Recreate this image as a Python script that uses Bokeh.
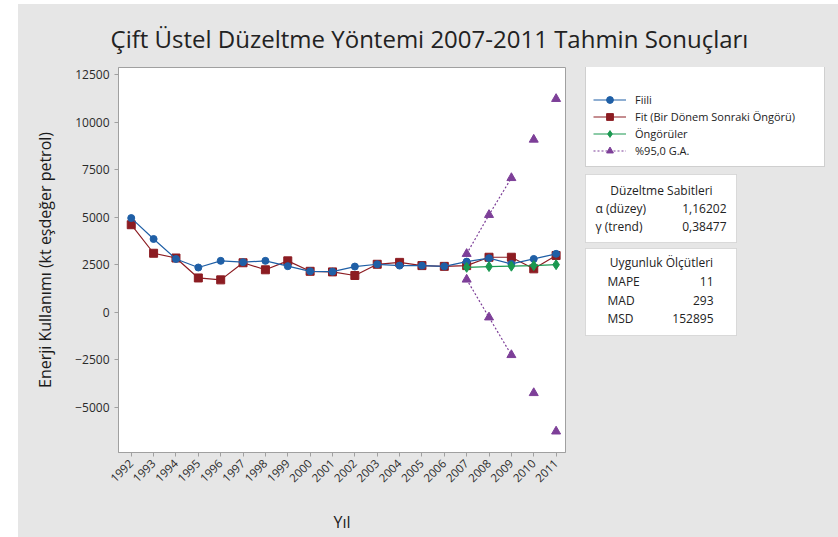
import math
from bokeh.plotting import figure
from bokeh.layouts import column, row
from bokeh.models import (Legend, LegendItem, Label, BoxAnnotation, FixedTicker,
                          Range1d, ColumnDataSource)
from bokeh.embed import file_html
from bokeh.resources import INLINE

# ---- data ----
years = list(range(1992, 2012))
actual = [4950, 3850, 2800, 2350, 2700, 2630, 2700, 2420, 2150, 2130,
          2400, 2520, 2450, 2450, 2410, 2660, 2840, 2540, 2800, 3070]
fit = [4600, 3100, 2850, 1800, 1700, 2600, 2230, 2700, 2150, 2120,
       1930, 2520, 2620, 2450, 2410, 2450, 2890, 2890, 2280, 2980]
fc_years = [2007, 2008, 2009, 2010, 2011]
forecast = [2360, 2400, 2420, 2450, 2500]
upper = [3070, 5120, 7060, 9080, 11220]
lower = [1720, -270, -2250, -4250, -6270]
y_ticks = [-5000, -2500, 0, 2500, 5000, 7500, 10000, 12500]
title_text = "Çift Üstel Düzeltme Yöntemi 2007-2011 Tahmin Sonuçları"
series_names = ["Fiili", "Fit (Bir Dönem Sonraki Öngörü)", "Öngörüler", "%95,0 G.A."]
smoothing_title = "Düzeltme Sabitleri"
smoothing = [("α (düzey)", "1,16202"), ("γ (trend)", "0,38477")]
accuracy_title = "Uygunluk Ölçütleri"
accuracy = [("MAPE", "11"), ("MAD", "293"), ("MSD", "152895")]

FONT = "Open Sans"
BG = "#e6e6e6"
GRAY = "#a0a0a0"
BLUE = "#1f5fa6"
RED = "#8c1c22"
GREEN = "#1a9850"
PURPLE = "#7d3f98"
TXT = "#222222"

TOTAL_W, TOTAL_H = 820, 533
TITLE_H = 50
MAIN_W = 557
SIDE_W = TOTAL_W - MAIN_W
BODY_H = TOTAL_H - TITLE_H
B_TOP, B_BOT = 13, 85          # frame borders shared by the two lower panels
F_BOT = BODY_H - B_BOT         # frame bottom in canvas pixels


def styled_blank(f):
    f.grid.visible = False
    f.outline_line_color = None
    f.background_fill_color = BG
    f.border_fill_color = BG
    return f


# ---- title strip ----
t = styled_blank(figure(width=TOTAL_W, height=TITLE_H, output_backend="svg",
                        toolbar_location=None, x_range=Range1d(0, TOTAL_W),
                        y_range=Range1d(TITLE_H, 0), x_axis_location=None,
                        y_axis_location=None, min_border=0))
t.add_layout(Label(x=411, y=34, text=title_text, text_font=FONT, text_font_size="24px",
                   text_color=TXT, text_align="center", text_baseline="middle"))

# ---- main chart ----
p = figure(width=MAIN_W, height=BODY_H, output_backend="svg", toolbar_location=None,
           x_range=Range1d(1991.43, 2011.42), y_range=Range1d(-7380, 12870),
           min_border_left=100, min_border_right=10, min_border_top=B_TOP,
           min_border_bottom=B_BOT)
p.background_fill_color = "white"
p.border_fill_color = BG
p.outline_line_color = GRAY
p.grid.visible = False

for ax in (p.xaxis[0], p.yaxis[0]):
    ax.axis_line_color = GRAY
    ax.major_tick_line_color = GRAY
    ax.major_tick_out = 4
    ax.major_tick_in = 0
    ax.minor_tick_line_color = None
    ax.major_label_text_font = FONT
    ax.major_label_text_color = "#2a2a2a"
    ax.axis_label_text_font = FONT
    ax.axis_label_text_font_style = "normal"
    ax.axis_label_text_color = "#1a1a1a"
    ax.axis_label_text_font_size = "16px"

p.xaxis.ticker = FixedTicker(ticks=years)
p.xaxis.major_label_orientation = math.pi / 4
p.xaxis.major_label_text_font_size = "11.5px"
p.xaxis.axis_label = "Yıl"
p.xaxis.axis_label_standoff = 22

p.yaxis.ticker = FixedTicker(ticks=y_ticks)
p.yaxis.major_label_text_font_size = "12px"
p.yaxis.axis_label = "Enerji Kullanımı (kt eşdeğer petrol)"
p.yaxis.axis_label_standoff = 16

src_a = ColumnDataSource(dict(x=years, y=actual))
src_f = ColumnDataSource(dict(x=years, y=fit))
src_g = ColumnDataSource(dict(x=fc_years, y=forecast))
src_u = ColumnDataSource(dict(x=fc_years, y=upper))
src_l = ColumnDataSource(dict(x=fc_years, y=lower))
src_ul = ColumnDataSource(dict(x=fc_years[:3], y=upper[:3]))
src_ll = ColumnDataSource(dict(x=fc_years[:3], y=lower[:3]))

STY = dict(
    a_line=dict(color=BLUE, line_width=1.2),
    a_pt=dict(marker="circle", size=7, color=BLUE),
    f_line=dict(color=RED, line_width=1.2),
    f_pt=dict(marker="square", size=8, color=RED),
    g_line=dict(color=GREEN, line_width=1.2),
    g_pt=dict(marker="diamond", size=10, color=GREEN),
    c_line=dict(color=PURPLE, line_width=1.2, line_dash="2 2"),
    c_pt=dict(marker="triangle", size=9, color=PURPLE),
)

p.line("x", "y", source=src_ul, **STY["c_line"])
p.line("x", "y", source=src_ll, **STY["c_line"])
p.scatter("x", "y", source=src_u, **STY["c_pt"])
p.scatter("x", "y", source=src_l, **STY["c_pt"])
p.line("x", "y", source=src_f, **STY["f_line"])
p.scatter("x", "y", source=src_f, **STY["f_pt"])
p.line("x", "y", source=src_a, **STY["a_line"])
p.scatter("x", "y", source=src_a, **STY["a_pt"])
p.line("x", "y", source=src_g, **STY["g_line"])
p.scatter("x", "y", source=src_g, **STY["g_pt"])

# ---- side panel: legend and statistics boxes (data units = canvas pixels) ----
s = styled_blank(figure(width=SIDE_W, height=BODY_H, output_backend="svg",
                        toolbar_location=None, x_range=Range1d(0, SIDE_W),
                        y_range=Range1d(F_BOT, B_TOP), x_axis_location=None,
                        y_axis_location=None, min_border_left=0, min_border_right=0,
                        min_border_top=B_TOP, min_border_bottom=B_BOT))
# legend glyph renderers (same data; they fall outside this panel's view)
la = [s.line("x", "y", source=src_a, **STY["a_line"]), s.scatter("x", "y", source=src_a, **STY["a_pt"])]
lf = [s.line("x", "y", source=src_f, **STY["f_line"]), s.scatter("x", "y", source=src_f, **STY["f_pt"])]
lg = [s.line("x", "y", source=src_g, **STY["g_line"]), s.scatter("x", "y", source=src_g, **STY["g_pt"])]
lc = [s.line("x", "y", source=src_ul, **STY["c_line"]), s.scatter("x", "y", source=src_u, **STY["c_pt"])]

legend = Legend(items=[LegendItem(label=n, renderers=r)
                       for n, r in zip(series_names, [la, lf, lg, lc])],
                location=(10, F_BOT - 113))
legend.title = " " * 72          # blank header strip, as in the reference box
legend.title_text_font = FONT
legend.title_text_font_size = "12px"
legend.title_standoff = 3
legend.padding = 7
legend.spacing = 0
legend.label_height = 17
legend.glyph_height = 17
legend.glyph_width = 33
legend.label_standoff = 9
legend.label_text_font = FONT
legend.label_text_font_size = "11px"
legend.label_text_color = TXT
legend.border_line_color = GRAY
legend.background_fill_color = "white"
legend.background_fill_alpha = 1
legend.margin = 0
s.add_layout(legend, "center")


def box(top, bottom):
    s.add_layout(BoxAnnotation(left=10, right=161, top=top, bottom=bottom,
                               fill_color="white", fill_alpha=1,
                               line_color=GRAY, line_width=1, level="underlay"))


def txt(x, y, text, align="left"):
    s.add_layout(Label(x=x, y=y, text=text, text_font=FONT, text_font_size="12px",
                       text_color=TXT, text_align=align, text_baseline="middle"))


box(120, 188)
txt(86, 136, smoothing_title, "center")
for i, (k, v) in enumerate(smoothing):
    txt(20, 154 + 18 * i, k)
    txt(151, 154 + 18 * i, v, "right")

box(194, 281)
txt(86, 208, accuracy_title, "center")
for i, (k, v) in enumerate(accuracy):
    txt(32, 227 + 18.5 * i, k)
    txt(138, 227 + 18.5 * i, v, "right")

lower_row = row(p, s, styles={"background-color": BG})
layout = column(t, lower_row, margin=(4, 0, 0, 18), styles={"background-color": BG})
open("out.html", "w").write(file_html(layout, INLINE))
